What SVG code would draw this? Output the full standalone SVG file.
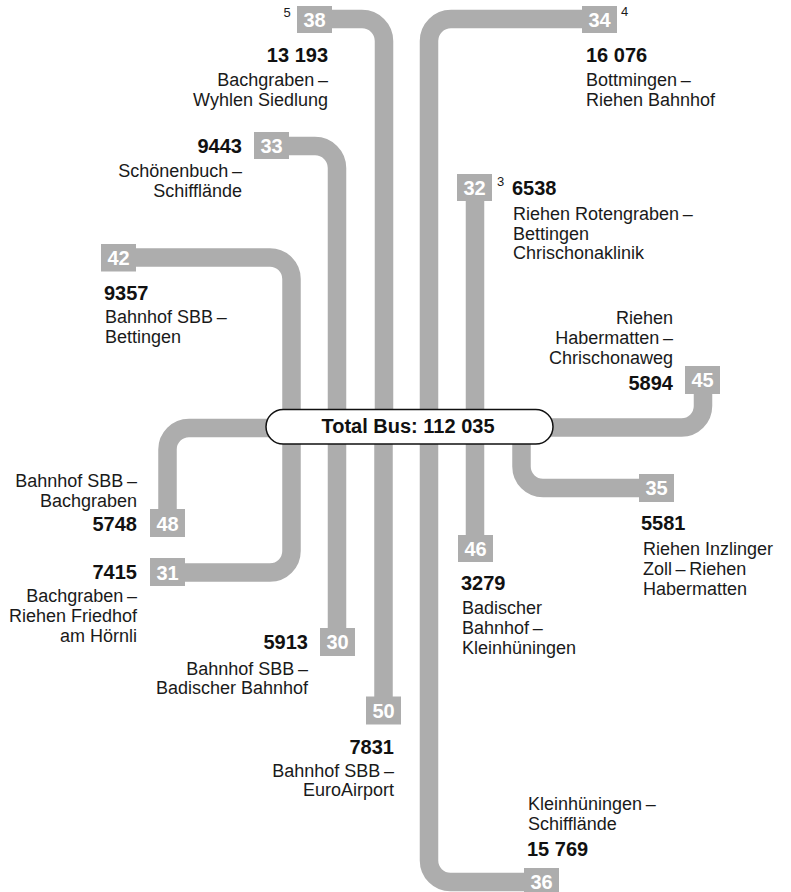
<svg xmlns="http://www.w3.org/2000/svg" width="791" height="892" viewBox="0 0 791 892">
<style>
.ln{fill:none;stroke:#adadad;stroke-width:18.5;stroke-linecap:butt}
.bx{fill:#adadad}
.bl{font-family:"Liberation Sans",Arial,sans-serif;font-weight:bold;font-size:20px;fill:#fff;text-anchor:middle}
.num{font-family:"Liberation Sans",Arial,sans-serif;font-weight:bold;font-size:20px;fill:#111}
.lb{font-family:"Liberation Sans",Arial,sans-serif;font-size:18px;fill:#1a1a1a}
.sup{font-family:"Liberation Sans",Arial,sans-serif;font-size:13px;fill:#1a1a1a}
.r{text-anchor:end}
</style>
<rect width="791" height="892" fill="#fff"/>
<g id="connectors">
<path class="ln" d="M320 19 H362 A22 22 0 0 1 384 41 V426"/>
<path class="ln" d="M429 426 V41 A22 22 0 0 1 451 19 H600"/>
<path class="ln" d="M280 146 H315 A22 22 0 0 1 337 168 V426"/>
<path class="ln" d="M475 426 V185"/>
<path class="ln" d="M120 257.5 H270 A21.5 21.5 0 0 1 291.5 279 V426"/>
<path class="ln" d="M300 428 H189 A21.5 21.5 0 0 0 167.5 449.5 V522"/>
<path class="ln" d="M291.5 426 V551 A21.5 21.5 0 0 1 270 572.5 H170"/>
<path class="ln" d="M337 426 V640"/>
<path class="ln" d="M383.5 426 V710"/>
<path class="ln" d="M475 426 V548"/>
<path class="ln" d="M540 427.5 H681.5 A21.5 21.5 0 0 0 703 406 V380"/>
<path class="ln" d="M521.5 426 V466.5 A21.5 21.5 0 0 0 543 488 H655"/>
<path class="ln" d="M429 426 V860.5 A21.5 21.5 0 0 0 450.5 882 H540"/>
</g>
<g id="n38">
<rect class="bx" x="297" y="6" width="35" height="27"/>
<text class="bl" x="314.5" y="27">38</text>
<text class="sup" x="283.5" y="17">5</text>
<text class="num r" x="328" y="62">13 193</text>
<text class="lb r" x="328" y="86">Bachgraben&#8201;–</text>
<text class="lb r" x="328" y="106">Wyhlen Siedlung</text>
</g>
<g id="n34">
<rect class="bx" x="582" y="6" width="35" height="27"/>
<text class="bl" x="599.5" y="27">34</text>
<text class="sup" x="621" y="16">4</text>
<text class="num" x="586" y="62">16 076</text>
<text class="lb" x="586" y="86">Bottmingen&#8201;–</text>
<text class="lb" x="586" y="106">Riehen Bahnhof</text>
</g>
<g id="n33">
<rect class="bx" x="254" y="132" width="35" height="27"/>
<text class="bl" x="271.5" y="153">33</text>
<text class="num r" x="242" y="153">9443</text>
<text class="lb r" x="242" y="177">Schönenbuch&#8201;–</text>
<text class="lb r" x="242" y="197">Schifflände</text>
</g>
<g id="n32">
<rect class="bx" x="457" y="174" width="35" height="27"/>
<text class="bl" x="474.5" y="194.5">32</text>
<text class="sup" x="497" y="186">3</text>
<text class="num" x="512" y="194.5">6538</text>
<text class="lb" x="513" y="220">Riehen Rotengraben&#8201;–</text>
<text class="lb" x="513" y="239.5">Bettingen</text>
<text class="lb" x="513" y="259">Chrischonaklinik</text>
</g>
<g id="n42">
<rect class="bx" x="101" y="244" width="35" height="27.5"/>
<text class="bl" x="118.5" y="265">42</text>
<text class="num" x="104" y="299.5">9357</text>
<text class="lb" x="105" y="323">Bahnhof SBB&#8201;–</text>
<text class="lb" x="105" y="343">Bettingen</text>
</g>
<g id="n45">
<rect class="bx" x="685" y="366" width="35" height="28"/>
<text class="bl" x="702.5" y="387">45</text>
<text class="lb r" x="673" y="323.5">Riehen</text>
<text class="lb r" x="673" y="343.5">Habermatten&#8201;–</text>
<text class="lb r" x="673" y="363.5">Chrischonaweg</text>
<text class="num r" x="673" y="389.5">5894</text>
</g>
<g id="n48">
<rect class="bx" x="150" y="509" width="35" height="28"/>
<text class="bl" x="167.5" y="530.5">48</text>
<text class="lb r" x="137" y="487">Bahnhof SBB&#8201;–</text>
<text class="lb r" x="137" y="506.5">Bachgraben</text>
<text class="num r" x="137" y="531">5748</text>
</g>
<g id="n35">
<rect class="bx" x="639" y="474" width="35" height="28"/>
<text class="bl" x="656.5" y="495">35</text>
<text class="num" x="641" y="529.5">5581</text>
<text class="lb" x="643" y="555">Riehen Inzlinger</text>
<text class="lb" x="643" y="575">Zoll&#8201;–&#8201;Riehen</text>
<text class="lb" x="643" y="594.5">Habermatten</text>
</g>
<g id="n46">
<rect class="bx" x="458" y="535" width="35" height="27"/>
<text class="bl" x="475.5" y="555.5">46</text>
<text class="num" x="461" y="590">3279</text>
<text class="lb" x="462" y="614">Badischer</text>
<text class="lb" x="462" y="634">Bahnhof&#8201;–</text>
<text class="lb" x="462" y="653.5">Kleinhüningen</text>
</g>
<g id="n31">
<rect class="bx" x="150" y="558" width="35" height="28"/>
<text class="bl" x="167.5" y="579.5">31</text>
<text class="num r" x="137" y="578.5">7415</text>
<text class="lb r" x="137" y="602">Bachgraben&#8201;–</text>
<text class="lb r" x="137" y="622">Riehen Friedhof</text>
<text class="lb r" x="137" y="642">am Hörnli</text>
</g>
<g id="n30">
<rect class="bx" x="320" y="628" width="35" height="28"/>
<text class="bl" x="337.5" y="648.5">30</text>
<text class="num r" x="308" y="648.5">5913</text>
<text class="lb r" x="308" y="675">Bahnhof SBB&#8201;–</text>
<text class="lb r" x="308" y="694">Badischer Bahnhof</text>
</g>
<g id="n50">
<rect class="bx" x="366" y="696.5" width="35" height="28"/>
<text class="bl" x="383.5" y="718">50</text>
<text class="num r" x="394" y="753.5">7831</text>
<text class="lb r" x="394" y="777">Bahnhof SBB&#8201;–</text>
<text class="lb r" x="394" y="796">EuroAirport</text>
</g>
<g id="n36">
<rect class="bx" x="524" y="868" width="35" height="28"/>
<text class="bl" x="541.5" y="888.5">36</text>
<text class="lb" x="528" y="810">Kleinhüningen&#8201;–</text>
<text class="lb" x="528" y="829.5">Schifflände</text>
<text class="num" x="527" y="856">15 769</text>
</g>
<g id="total">
<rect x="266" y="409.5" width="287" height="34.5" rx="17.25" fill="#fff" stroke="#111" stroke-width="1.5"/>
<text class="num" x="408" y="433" text-anchor="middle">Total Bus: 112 035</text>
</g>
</svg>
